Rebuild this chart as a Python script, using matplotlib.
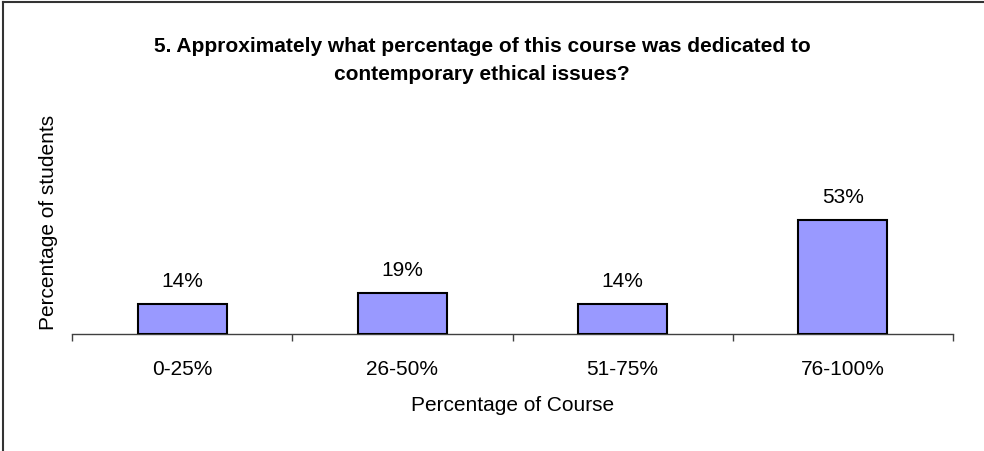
import matplotlib
matplotlib.use("Agg")
import matplotlib.pyplot as plt
from matplotlib.lines import Line2D

# Data
categories = ["0-25%", "26-50%", "51-75%", "76-100%"]
percent_students = [14, 19, 14, 53]
bar_labels = ["14%", "19%", "14%", "53%"]

plt.rcParams["font.family"] = ["Liberation Sans", "DejaVu Sans"]

W, H = 984, 452
fig = plt.figure(figsize=(W / 100, H / 100), dpi=100)

# plot area in pixels: x 72..953, y 119..335 (top-down)
ax = fig.add_axes([72 / W, (H - 335) / H, 881 / W, 216 / H])

x = range(len(categories))
bars = ax.bar(x, percent_students, width=0.405, color="#9999FF",
              edgecolor="black", linewidth=1.5, zorder=3)

for b, lab in zip(bars, bar_labels):
    ax.annotate(lab, (b.get_x() + b.get_width() / 2, b.get_height()),
                xytext=(0, 10), textcoords="offset points",
                ha="center", va="bottom", fontsize=15, clip_on=False)

ax.set_xlim(-0.5, len(categories) - 0.5)
ax.set_ylim(0, 100)

for s in ["top", "right", "left"]:
    ax.spines[s].set_visible(False)
ax.spines["bottom"].set_color("#404040")
ax.spines["bottom"].set_linewidth(1)

ax.set_yticks([])
ax.set_xticks(list(x))
ax.set_xticklabels(categories, fontsize=15)
ax.tick_params(axis="x", which="major", length=0, pad=18)
ax.set_xticks([i - 0.5 for i in range(len(categories) + 1)], minor=True)
ax.tick_params(axis="x", which="minor", length=5, width=1, color="#404040",
               direction="out")

ax.set_xlabel("Percentage of Course", fontsize=15, labelpad=12)
ax.set_ylabel("Percentage of students", fontsize=15, labelpad=10)
ax.yaxis.label.set_y((335 - 222) / 216)

fig.text(0.49, 1 - 60 / H,
         "5. Approximately what percentage of this course was dedicated to\ncontemporary ethical issues?",
         ha="center", va="center", fontsize=15, fontweight="bold",
         linespacing=1.6)

# outer chart frame (only top and left visible in the reference)
fig.add_artist(Line2D([2.5 / W, 2.5 / W], [0, 1 - 2.5 / H], color="#333333", lw=1.5))
fig.add_artist(Line2D([2.5 / W, 1], [1 - 2.5 / H, 1 - 2.5 / H], color="#333333", lw=1.5))

fig.savefig("out.png", dpi=100)
